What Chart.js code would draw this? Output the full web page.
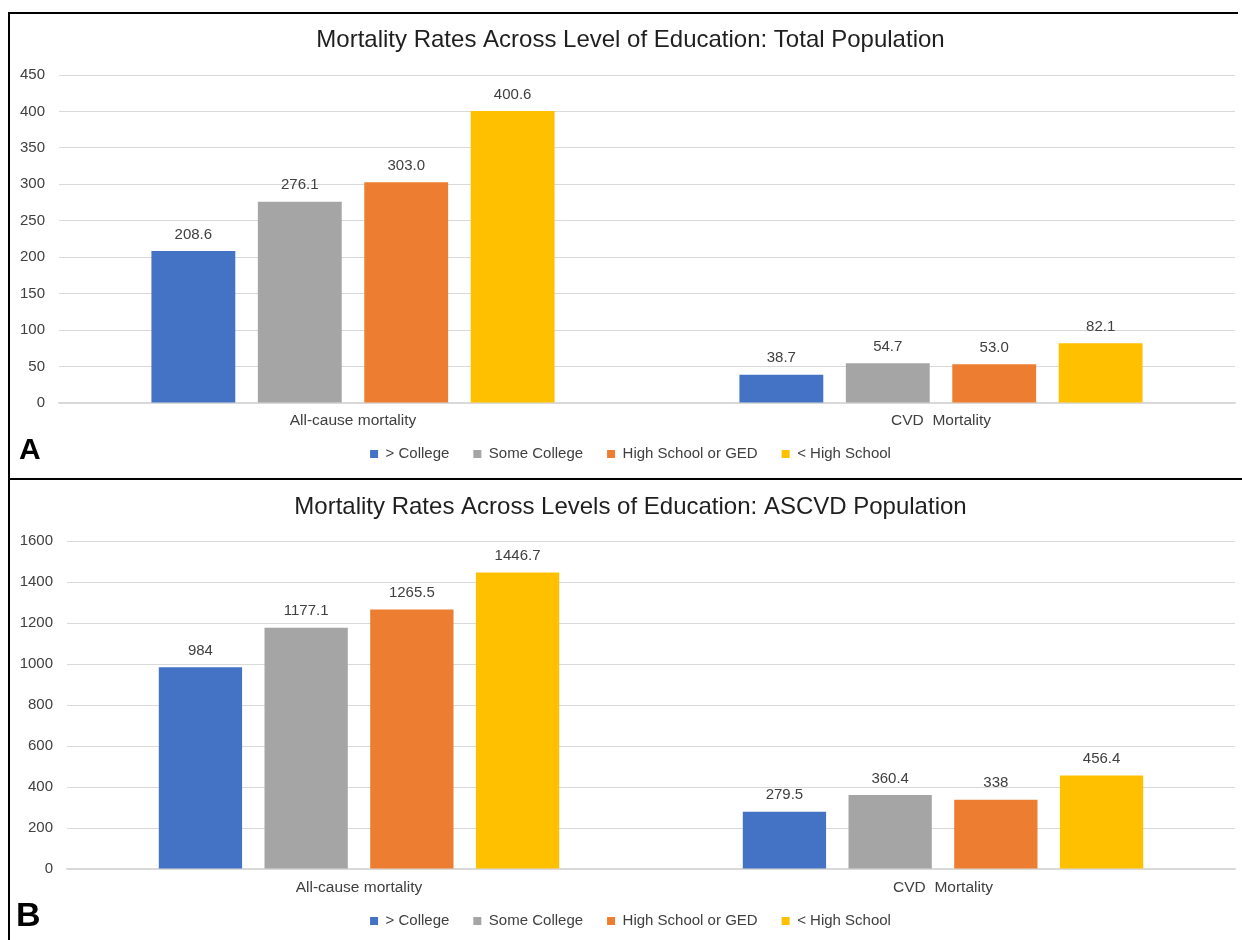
<!DOCTYPE html>
<html>
<head>
<meta charset="utf-8">
<script src="https://cdn.jsdelivr.net/npm/chart.js@4.4.1/dist/chart.umd.min.js"></script>
<style>
  html, body { margin: 0; padding: 0; background: #ffffff; }
  body { width: 1242px; height: 940px; overflow: hidden; position: relative; font-family: "Liberation Sans", Arial, sans-serif; }
  .line { position: absolute; background: #000; }
  canvas { position: absolute; }
  .tag { position: absolute; font-family: "Liberation Sans", Arial, sans-serif; font-weight: bold; color: #000; line-height: 1; }
</style>
</head>
<body>
<div class="line" style="left:8px; top:12px; width:1230px; height:2px;"></div>
<div class="line" style="left:8px; top:12px; width:2px; height:928px;"></div>
<div class="line" style="left:8px; top:478px; width:1234px; height:2px;"></div>
<canvas id="chartA" width="1241" height="464" style="left:10px; top:14px;"></canvas>
<canvas id="chartB" width="1241" height="460" style="left:10px; top:480px;"></canvas>
<div class="tag" style="left:19px; top:434px; font-size:30px;">A</div>
<div class="tag" style="left:16px; top:897px; font-size:34px;">B</div>
<script>
// ---- data ----
const categories = ['All-cause mortality', 'CVD  Mortality'];
const seriesNames = ['> College', 'Some College', 'High School or GED', '< High School'];
const seriesColors = ['#4472C4', '#A5A5A5', '#ED7D31', '#FFC000'];

// Panel A: Total Population
const titleA = 'Mortality Rates Across Level of Education: Total Population';
const totalMoreCollege = [208.6, 38.7];
const totalSomeCollege = [276.1, 54.7];
const totalHighSchool = [303.0, 53.0];
const totalLessHighSchool = [400.6, 82.1];
const totalTickMax = 450;
const totalTickStep = 50;

// Panel B: ASCVD Population
const titleB = 'Mortality Rates Across Levels of Education: ASCVD Population';
const ascvdMoreCollege = [984, 279.5];
const ascvdSomeCollege = [1177.1, 360.4];
const ascvdHighSchool = [1265.5, 338];
const ascvdLessHighSchool = [1446.7, 456.4];
const ascvdTickMax = 1600;
const ascvdTickStep = 200;

const FONT = '"Liberation Sans", Arial, sans-serif';
const TEXT = '#404040';

const valueLabels = {
  id: 'valueLabels',
  afterDatasetsDraw(chart, args, opts) {
    const ctx = chart.ctx;
    ctx.save();
    ctx.font = '15px ' + FONT;
    ctx.fillStyle = TEXT;
    ctx.textAlign = 'center';
    ctx.textBaseline = 'middle';
    chart.data.datasets.forEach((ds, i) => {
      const meta = chart.getDatasetMeta(i);
      meta.data.forEach((bar, j) => {
        ctx.fillText(opts.format(ds.data[j]), bar.x, bar.y - 16.5);
      });
    });
    // category labels under the x axis, placed by the x scale
    const xs = chart.scales.x;
    ctx.font = '15.5px ' + FONT;
    chart.data.labels.forEach((lab, i) => {
      ctx.fillText(lab, xs.getPixelForTick(i), chart.chartArea.bottom + opts.catOffset);
    });
    ctx.restore();
  }
};

function makeChart(id, cfg) {
  const series = cfg.series;
  return new Chart(document.getElementById(id), {
    type: 'bar',
    data: {
      labels: categories,
      datasets: series.map((vals, i) => ({
        label: seriesNames[i],
        data: vals,
        backgroundColor: seriesColors[i],
        borderWidth: 0,
        categoryPercentage: 0.724,
        barPercentage: 0.788
      }))
    },
    plugins: [valueLabels],
    options: {
      responsive: false,
      animation: false,
      events: [],
      layout: { padding: { left: 0, right: 0, top: 0, bottom: cfg.padBottom } },
      plugins: {
        valueLabels: { format: cfg.format, catOffset: cfg.catOffset },
        tooltip: { enabled: false },
        title: {
          display: true,
          text: cfg.title,
          color: '#1f1f1f',
          font: { family: FONT, size: 24, weight: 'normal', lineHeight: 1.2 },
          padding: cfg.titlePad
        },
        legend: {
          display: true,
          position: 'bottom',
          align: 'center',
          labels: {
            boxWidth: 8,
            boxHeight: 8,
            padding: 24,
            color: TEXT,
            font: { family: FONT, size: 15 }
          }
        }
      },
      scales: {
        x: {
          grid: { display: false, drawTicks: false },
          border: { display: true, color: '#D9D9D9', width: 1.5 },
          ticks: { display: false },
          afterFit(s) { s.height = cfg.xHeight; }
        },
        y: {
          min: 0,
          max: cfg.tickMax,
          ticks: {
            stepSize: cfg.tickStep, color: TEXT, font: { family: FONT, size: 15 }, padding: 14,
            callback: v => String(v)
          },
          grid: { color: '#D9D9D9', lineWidth: 1, drawTicks: false },
          border: { display: false },
          afterFit(s) { s.width = cfg.yWidth; }
        },
        yR: {
          position: 'right',
          display: true,
          grid: { display: false, drawTicks: false },
          border: { display: false },
          ticks: { display: false },
          afterFit(s) { s.width = 16; }
        }
      }
    }
  });
}

makeChart('chartA', {
  title: titleA,
  series: [totalMoreCollege, totalSomeCollege, totalHighSchool, totalLessHighSchool],
  tickMax: totalTickMax,
  tickStep: totalTickStep,
  format: v => v.toFixed(1),
  titlePad: { top: 11.6, bottom: 20.6 },
  padBottom: 6.5,
  xHeight: 19.5,
  catOffset: 18,
  yWidth: 49
});

makeChart('chartB', {
  title: titleB,
  series: [ascvdMoreCollege, ascvdSomeCollege, ascvdHighSchool, ascvdLessHighSchool],
  tickMax: ascvdTickMax,
  tickStep: ascvdTickStep,
  format: v => String(v),
  titlePad: { top: 12.6, bottom: 19.6 },
  padBottom: 1.5,
  xHeight: 20.5,
  catOffset: 19,
  yWidth: 57
});
</script>
</body>
</html>
